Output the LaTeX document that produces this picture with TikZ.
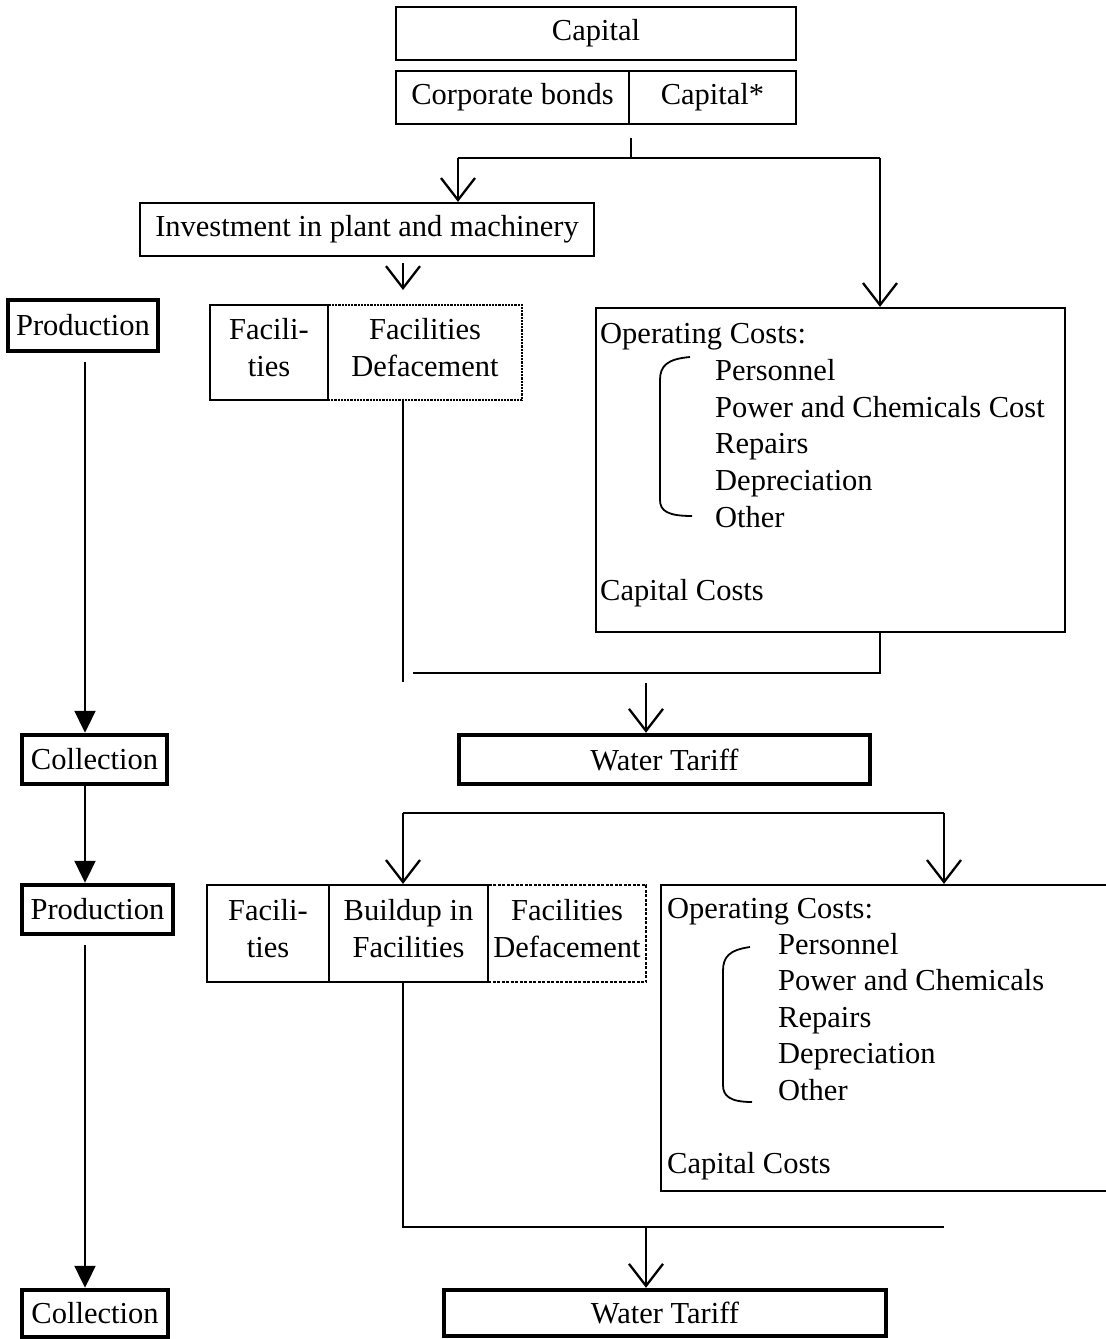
\documentclass[tikz,border=0pt]{standalone}
\usepackage{fontspec}
\setmainfont{Liberation Serif}
\usetikzlibrary{arrows.meta}
\begin{document}
\begin{tikzpicture}[x=1pt,y=-1pt,
  box/.style={draw, line width=2.2pt, inner sep=0pt, align=center,
    font=\fontsize{30.5}{37}\selectfont},
  thickbox/.style={box, line width=4.5pt},
  raised/.style={text depth=10pt},
  txt/.style={inner sep=0pt, anchor=base west, font=\fontsize{30.5}{37}\selectfont},
  link/.style={line width=2.3pt},
  openarrow/.style={-{Straight Barb[length=22pt,width=34pt]}},
  filledarrow/.style={-{Triangle[length=22pt,width=21pt]}},
  brace/.style={line width=1.8pt}]
\useasboundingbox (0,0) rectangle (1106,1339);
\fill[white] (0,0) rectangle (1106,1339);
\clip (0,0) rectangle (1106,1339);

% ---- financing ----
\node[box, minimum width=400pt, minimum height=53pt] (capital) at (596,33.5) {Capital};
\node[box, minimum width=233pt, minimum height=53pt] (bonds) at (512.5,97.5) {Corporate bonds};
\node[box, minimum width=167pt, minimum height=53pt] (capstar) at (712.5,97.5) {Capital*};
\node[box, minimum width=454pt, minimum height=53pt] (invest) at (367,229.5) {Investment in plant and machinery};

% ---- first period ----
\node[thickbox, minimum width=150pt, minimum height=51pt] (prod1) at (83,325.5) {Production};
\node[box, raised, densely dotted, minimum width=194pt, minimum height=95pt] (defac1) at (425,352.5) {Facilities\\Defacement};
\node[box, raised, minimum width=118pt, minimum height=95pt] (fac1) at (269,352.5) {Facili-\\ties};
\node[box, minimum width=469pt, minimum height=324pt] (ops1) at (830.5,470) {};
\node[txt] (ops1head) at (600,343) {Operating Costs:};
\node[txt] (ops1a) at (715,380) {Personnel};
\node[txt] (ops1b) at (715,417) {Power and Chemicals Cost};
\node[txt] (ops1c) at (715,453) {Repairs};
\node[txt] (ops1d) at (715,490) {Depreciation};
\node[txt] (ops1e) at (715,527) {Other};
\node[txt] (ops1cap) at (600,600) {Capital Costs};
\draw[brace] (690,357) .. controls (667,359) and (660,366) .. (660,380)
  -- (660,500) .. controls (660,511) and (668,516) .. (692,516);

\node[thickbox, minimum width=145pt, minimum height=49pt] (collect1) at (94.5,759.5) {Collection};
\node[thickbox, minimum width=411pt, minimum height=49pt] (tariff1) at (664.5,759.5) {Water Tariff};

% ---- second period ----
\node[thickbox, minimum width=151pt, minimum height=49pt] (prod2) at (97.5,909.5) {Production};
\node[box, raised, dash pattern=on 3pt off 1.5pt, line width=1.5pt, minimum width=158pt, minimum height=97pt] (defac2) at (567,933.5) {Facilities\\Defacement};
\node[box, raised, minimum width=122pt, minimum height=97pt] (fac2) at (268,933.5) {Facili-\\ties};
\node[box, raised, minimum width=159pt, minimum height=97pt] (build2) at (408.5,933.5) {Buildup in\\Facilities};
\node[box, minimum width=459pt, minimum height=306pt] (ops2) at (890.5,1038) {};
\node[txt] (ops2head) at (667,918) {Operating Costs:};
\node[txt] (ops2a) at (778,954) {Personnel};
\node[txt] (ops2b) at (778,990) {Power and Chemicals};
\node[txt] (ops2c) at (778,1027) {Repairs};
\node[txt] (ops2d) at (778,1063) {Depreciation};
\node[txt] (ops2e) at (778,1100) {Other};
\node[txt] (ops2cap) at (667,1173) {Capital Costs};
\draw[brace] (750,947) .. controls (729,950) and (723,957) .. (723,971)
  -- (723,1085) .. controls (723,1096) and (730,1102) .. (752,1102);

\node[thickbox, minimum width=146pt, minimum height=47pt] (collect2) at (95,1313.5) {Collection};
\node[thickbox, minimum width=442pt, minimum height=46pt] (tariff2) at (665,1313) {Water Tariff};

% ---- connectors: financing ----
\coordinate (c1top) at (631,138);
\coordinate (c1) at (631,158);
\coordinate (c1l) at (458,158);
\coordinate (c1r) at (880,158);
\draw[link] (c1top) -- (c1);
\draw[link] (c1l) -- (c1r);
\draw[link, openarrow] (c1l) -- (invest.north -| c1l);
\draw[link, openarrow] (c1r) -- (ops1.north -| c1r);
\coordinate (a2s) at (403,263);
\coordinate (a2e) at (403,290);
\draw[link, openarrow] (a2s) -- (a2e);

% ---- connectors: first tariff ----
\coordinate (j1a) at (403,682);
\coordinate (j1l) at (413,673);
\coordinate (j1r) at (880,673);
\draw[link] (defac1.south -| j1a) -- (j1a);
\draw[link] (ops1.south -| j1r) -- (j1r) -- (j1l);
\coordinate (a3s) at (646,683);
\draw[link, openarrow] (a3s) -- (tariff1.north -| a3s);

% ---- connectors: second period ----
\coordinate (s2l) at (403,813);
\coordinate (s2r) at (944,813);
\draw[link] (s2l) -- (s2r);
\draw[link, openarrow] (s2l) -- (build2.north -| s2l);
\draw[link, openarrow] (s2r) -- (ops2.north -| s2r);
\coordinate (j2l) at (403,1227);
\coordinate (j2r) at (944,1227);
\draw[link] (build2.south -| j2l) -- (j2l) -- (j2r);
\coordinate (a4s) at (646,1227);
\draw[link, openarrow] (a4s) -- (tariff2.north -| a4s);

% ---- production / collection chain ----
\coordinate (p1s) at (85,362);
\coordinate (p2s) at (85,945);
\draw[link, filledarrow] (p1s) -- (collect1.north -| p1s);
\draw[link, filledarrow] (collect1.south -| p1s) -- (prod2.north -| p1s);
\draw[link, filledarrow] (p2s) -- (collect2.north -| p2s);
\end{tikzpicture}
\end{document}
